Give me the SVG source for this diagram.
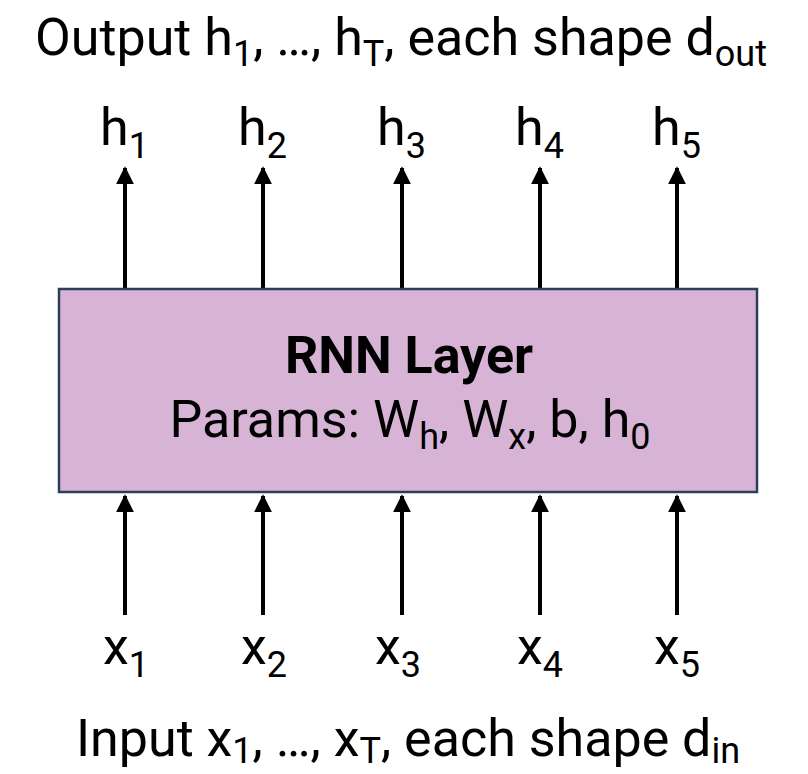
<svg xmlns="http://www.w3.org/2000/svg" width="808" height="774" viewBox="0 0 808 774">
<style>
text{font-family:Roboto,"Liberation Sans",sans-serif;fill:#000;font-size:52px}
.s{font-size:36px}
.c{stroke:#000;stroke-width:4;fill:none}
</style>
<defs>
<marker id="ah" viewBox="0 0 10 10" refX="9" refY="5" markerWidth="4.5" markerHeight="4.5" markerUnits="strokeWidth" orient="auto"><path d="M0,0L10,5L0,10z" fill="#000"/></marker>
</defs>
<rect width="808" height="774" fill="#fff"/>
<text x="401" y="55" text-anchor="middle" font-size="53">Output h<tspan class="s" dy="11">1</tspan><tspan dy="-11">, …, h</tspan><tspan class="s" dy="11">T</tspan><tspan dy="-11">, each shape d</tspan><tspan class="s" dy="11">out</tspan></text>
<g id="connectors">
<line class="c" x1="125" y1="289" x2="125" y2="168" marker-end="url(#ah)"/>
<line class="c" x1="263" y1="289" x2="263" y2="168" marker-end="url(#ah)"/>
<line class="c" x1="402" y1="289" x2="402" y2="168" marker-end="url(#ah)"/>
<line class="c" x1="540" y1="289" x2="540" y2="168" marker-end="url(#ah)"/>
<line class="c" x1="677" y1="289" x2="677" y2="168" marker-end="url(#ah)"/>
<line class="c" x1="125" y1="615" x2="125" y2="496" marker-end="url(#ah)"/>
<line class="c" x1="263" y1="615" x2="263" y2="496" marker-end="url(#ah)"/>
<line class="c" x1="402" y1="615" x2="402" y2="496" marker-end="url(#ah)"/>
<line class="c" x1="540" y1="615" x2="540" y2="496" marker-end="url(#ah)"/>
<line class="c" x1="677" y1="615" x2="677" y2="496" marker-end="url(#ah)"/>
</g>
<g id="rnn">
<rect x="59" y="289" width="698" height="203" fill="#d7b4d6" stroke="#2e3d5c" stroke-width="2.5"/>
<text x="409" y="373" text-anchor="middle" font-weight="bold">RNN Layer</text>
<text x="410" y="437" text-anchor="middle">Params: W<tspan class="s" dy="12">h</tspan><tspan dy="-12">, W</tspan><tspan class="s" dy="12">x</tspan><tspan dy="-12">, b, h</tspan><tspan class="s" dy="12">0</tspan></text>
</g>
<g id="outputs">
<text x="100" y="145">h<tspan class="s" dy="13">1</tspan></text>
<text x="238" y="145">h<tspan class="s" dy="13">2</tspan></text>
<text x="377" y="145">h<tspan class="s" dy="13">3</tspan></text>
<text x="515" y="145">h<tspan class="s" dy="13">4</tspan></text>
<text x="652" y="145">h<tspan class="s" dy="13">5</tspan></text>
</g>
<g id="inputs">
<text x="103" y="664">x<tspan class="s" dy="13">1</tspan></text>
<text x="241" y="664">x<tspan class="s" dy="13">2</tspan></text>
<text x="375" y="664">x<tspan class="s" dy="13">3</tspan></text>
<text x="517" y="664">x<tspan class="s" dy="13">4</tspan></text>
<text x="654" y="664">x<tspan class="s" dy="13">5</tspan></text>
</g>
<text x="408" y="756" text-anchor="middle" font-size="53">Input x<tspan class="s" dy="7">1</tspan><tspan dy="-7">, …, x</tspan><tspan class="s" dy="7">T</tspan><tspan dy="-7">, each shape d</tspan><tspan class="s" dy="7">in</tspan></text>
</svg>
